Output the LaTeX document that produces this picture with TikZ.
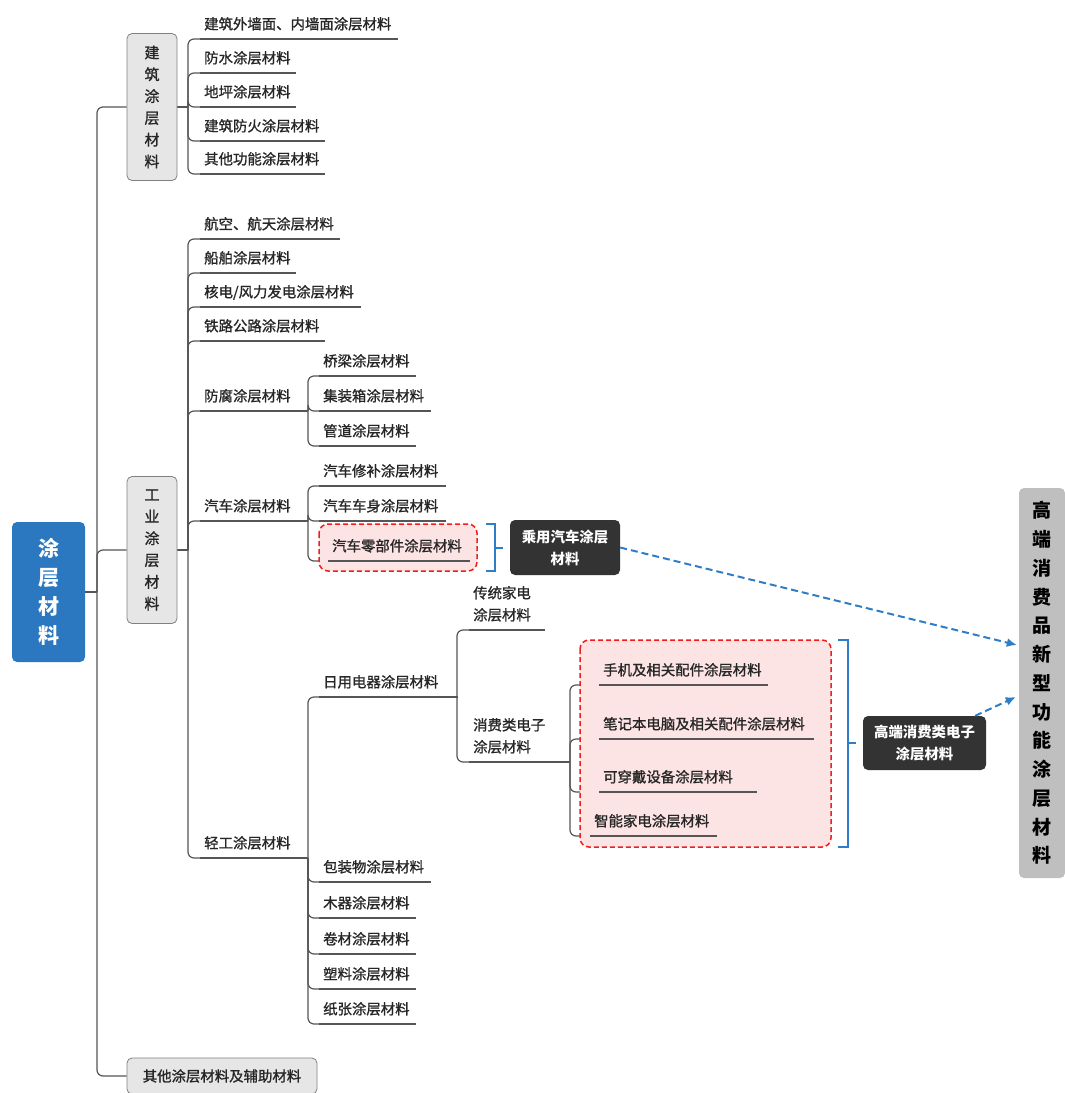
\documentclass[tikz,border=0pt]{standalone}
\usepackage{fontspec}
\setmainfont{Noto Sans CJK SC}
\newfontfamily\medfont{Noto Sans CJK SC}[RawFeature={embolden=1.2}]
\usetikzlibrary{arrows.meta,calc}
\pgfdeclarelayer{bg}
\pgfsetlayers{bg,main}
\definecolor{linecol}{HTML}{555555}
\definecolor{textcol}{HTML}{262626}
\definecolor{rootblue}{HTML}{2B78C1}
\definecolor{boxfill}{HTML}{E6E6E6}
\definecolor{boxline}{HTML}{808080}
\definecolor{darkbox}{HTML}{333333}
\definecolor{rightgrey}{HTML}{BFBFBF}
\definecolor{pinkfill}{HTML}{FDE4E4}
\definecolor{reddash}{HTML}{F01E1E}
\definecolor{bluecol}{HTML}{2E7DC6}
\tikzset{
  conn/.style={draw=linecol, line width=1.2pt, rounded corners=6pt},
  uline/.style={draw=linecol, line width=1.2pt},
  leaf/.style={anchor=south west, inner xsep=4pt, inner ysep=7.5pt, text depth=2pt,
    align=left, font=\medfont\fontsize{14.4}{22}\selectfont, text=textcol},
  twoline/.style={text depth=24pt},
  greybox/.style={draw=boxline, fill=boxfill, line width=0.8pt, rounded corners=5pt,
    minimum width=50pt, minimum height=147pt, inner sep=0pt, align=center,
    font=\medfont\fontsize{15}{21.8}\selectfont, text=textcol},
  darknode/.style={fill=darkbox, rounded corners=5pt, inner sep=0pt, align=center,
    font=\bfseries\fontsize{14.4}{22}\selectfont, text=white},
  redbox/.style={draw=reddash, fill=pinkfill, line width=1.5pt, dash pattern=on 5pt off 3pt, rounded corners=9pt},
  bracket/.style={draw=bluecol, line width=1.5pt},
  arr/.style={draw=bluecol, line width=2pt, dash pattern=on 7pt off 4pt, -{Latex[length=10pt,width=9pt]}},
}
\newcommand\leafnode[6][]{%
  \pgfmathsetmacro\lw{#5-#3-8}%
  \node[leaf, text width=\lw pt, #1] (#2) at (#3,#4) {#6};
  \draw[uline] (#2.south west) -- (#2.south east);
}
\begin{document}
\begin{tikzpicture}[x=1pt, y=-1pt]
\useasboundingbox (0,0) rectangle (1065,1093);

% main boxes
\node[fill=rootblue, rounded corners=5pt, minimum width=73pt, minimum height=140pt, inner sep=0pt,
  align=center, text=white, font=\bfseries\fontsize{21}{29}\selectfont] (root) at (48.5,592) {涂\\层\\材\\料};
\node[greybox] (jz) at (152,107) {建\\筑\\涂\\层\\材\\料};
\node[greybox] (gy) at (152,550) {工\\业\\涂\\层\\材\\料};
\node[draw=boxline, fill=boxfill, line width=0.8pt, rounded corners=5pt, minimum width=190pt,
  minimum height=36pt, inner sep=0pt, font=\medfont\fontsize{14.4}{22}\selectfont, text=textcol] (qt) at (222,1076) {其他涂层材料及辅助材料};

% leaves
\leafnode{j1}{200}{39}{398}{建筑外墙面、内墙面涂层材料}
\leafnode{j2}{200}{73}{296}{防水涂层材料}
\leafnode{j3}{200}{107}{296}{地坪涂层材料}
\leafnode{j4}{200}{141}{325}{建筑防火涂层材料}
\leafnode{j5}{200}{174}{325}{其他功能涂层材料}
\leafnode{g1}{200}{239}{340}{航空、航天涂层材料}
\leafnode{g2}{200}{273}{296}{船舶涂层材料}
\leafnode{g3}{200}{307}{361}{核电/风力发电涂层材料}
\leafnode{g4}{200}{341}{325}{铁路公路涂层材料}
\leafnode{g5}{200}{411}{300}{防腐涂层材料}
\leafnode{g6}{200}{521}{300}{汽车涂层材料}
\leafnode{g7}{200}{858}{300}{轻工涂层材料}
\leafnode{f1}{319}{376}{416}{桥梁涂层材料}
\leafnode{f2}{319}{411}{431}{集装箱涂层材料}
\leafnode{f3}{319}{446}{416}{管道涂层材料}
\leafnode{c1}{319}{486}{446}{汽车修补涂层材料}
\leafnode{c2}{319}{521}{446}{汽车车身涂层材料}
\leafnode{c3}{328}{561}{470}{汽车零部件涂层材料}
\leafnode{q1}{319}{697}{457}{日用电器涂层材料}
\leafnode{q2}{319}{882}{431}{包装物涂层材料}
\leafnode{q3}{319}{918}{416}{木器涂层材料}
\leafnode{q4}{319}{954}{416}{卷材涂层材料}
\leafnode{q5}{319}{989}{416}{塑料涂层材料}
\leafnode{q6}{319}{1024}{416}{纸张涂层材料}
\leafnode[twoline]{r1}{469}{630}{545}{传统家电\\涂层材料}
\leafnode[twoline]{r2}{469}{762}{560}{消费类电子\\涂层材料}
\leafnode{s1}{599}{685}{768}{手机及相关配件涂层材料}
\leafnode{s2}{599}{739}{814}{笔记本电脑及相关配件涂层材料}
\leafnode{s3}{599}{792}{757}{可穿戴设备涂层材料}
\leafnode{s4}{590}{836}{717}{智能家电涂层材料}

% dark boxes and right box
\node[darknode, minimum width=110pt, minimum height=55pt] (cy) at (565,547.5) {乘用汽车涂层\\材料};
\node[darknode, minimum width=123pt, minimum height=54pt] (gd) at (924.5,743) {高端消费类电子\\涂层材料};
\node[fill=rightgrey, rounded corners=5pt, minimum width=46pt, minimum height=390pt, inner sep=0pt,
  align=center, font=\bfseries\fontsize{19}{28.75}\selectfont, text=black] (rt) at (1042,683)
  {高\\端\\消\\费\\品\\新\\型\\功\\能\\涂\\层\\材\\料};

% connectors and boundaries on background layer
\begin{pgfonlayer}{bg}
  \coordinate (t0) at (97,592);
  \draw[conn] (root.east) -- (t0);
  \foreach \c in {jz,gy,qt} \draw[conn] (t0) |- (\c.west);

  \coordinate (j0) at (188,107);
  \draw[conn] (jz.east) -- (j0);
  \foreach \c in {j1,j2,j3,j4,j5} \draw[conn] (j0) |- (\c.south west);

  \coordinate (g0) at (188,550);
  \draw[conn] (gy.east) -- (g0);
  \foreach \c in {g1,g2,g3,g4,g5,g6,g7} \draw[conn] (g0) |- (\c.south west);

  \coordinate (f0) at (308,411);
  \draw[conn] (g5.south east) -- (f0);
  \foreach \c in {f1,f2,f3} \draw[conn] (f0) |- (\c.south west);

  \coordinate (c0) at (308,521);
  \draw[conn] (g6.south east) -- (c0);
  \foreach \c in {c1,c2,c3} \draw[conn] (c0) |- (\c.south west);

  \coordinate (q0) at (308,858);
  \draw[conn] (g7.south east) -- (q0);
  \foreach \c in {q1,q2,q3,q4,q5,q6} \draw[conn] (q0) |- (\c.south west);

  \coordinate (r0) at (457,697);
  \draw[conn] (q1.south east) -- (r0);
  \foreach \c in {r1,r2} \draw[conn] (r0) |- (\c.south west);

  \coordinate (s0) at (570,762);
  \draw[conn] (r2.south east) -- (s0);
  \foreach \c in {s1,s2,s3,s4} \draw[conn] (s0) |- (\c.south west);

  \draw[redbox] (319,524) rectangle (477,571);
  \draw[redbox] (580,640) rectangle (831,847);
\end{pgfonlayer}

% brackets
\draw[bracket] (486,524) -- (495,524) -- (495,571) -- (486,571);
\draw[bracket] (495,548) -- (503,548);
\draw[bracket] (838,640) -- (848,640) -- (848,847) -- (838,847);
\draw[bracket] (848,743) -- (856,743);

% arrows
\draw[arr] (cy.east) -- ($(rt.west)+(-2,-38)$);
\draw[arr] ($(gd.north east)+(-11,0)$) -- ($(rt.west)+(-3,14)$);
\end{tikzpicture}
\end{document}
